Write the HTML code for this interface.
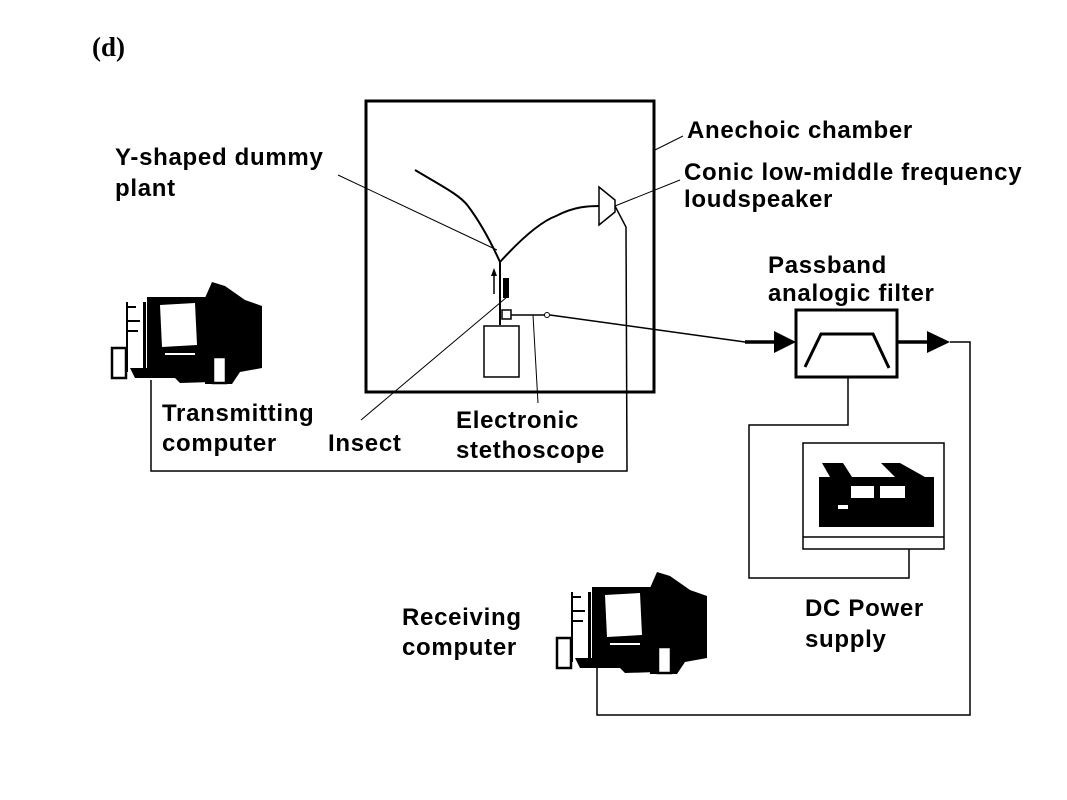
<!DOCTYPE html>
<html><head><meta charset="utf-8"><style>
html,body{margin:0;padding:0;background:#fff}
svg{display:block}
text{font-family:"Liberation Sans",Arial,sans-serif;font-weight:bold;font-size:24px;letter-spacing:0.7px;fill:#000}
</style></head><body>
<svg width="1067" height="800" viewBox="0 0 1067 800" xmlns="http://www.w3.org/2000/svg">
<defs>
<g id="pc">
  <path d="M205,298 L212,282 L225,286 L245,300 L262,306 L262,368 L240,372 L232,384 L205,384 Z" fill="#000"/>
  <rect x="147" y="297" width="60" height="72" fill="#000"/>
  <path d="M160,305 L195,303 L197,345 L162,347 Z" fill="#fff"/>
  <rect x="165" y="353" width="30" height="2" fill="#fff"/>
  <path d="M130,368 L212,368 L212,382 L180,383 L175,378 L135,378 Z" fill="#000"/>
  <rect x="126" y="302" width="2" height="70" fill="#000"/>
  <rect x="143" y="302" width="3" height="70" fill="#000"/>
  <rect x="128" y="306" width="8" height="2" fill="#000"/>
  <rect x="128" y="320" width="12" height="2" fill="#000"/>
  <rect x="128" y="330" width="10" height="2" fill="#000"/>
  <rect x="112" y="348" width="14" height="30" fill="none" stroke="#000" stroke-width="2.5"/>
  <rect x="213" y="357" width="13" height="26" fill="#fff" stroke="#000" stroke-width="2.5"/>
</g>
</defs>

<text x="92" y="56" style="font-family:'Liberation Serif',serif;font-size:27px;letter-spacing:0">(d)</text>

<rect x="366" y="101" width="288" height="291" fill="none" stroke="#000" stroke-width="3"/>

<path d="M415,170 C440,185 460,195 468,206 C480,222 490,240 500,262" fill="none" stroke="#000" stroke-width="2"/>
<path d="M500,262 C520,240 540,222 556,216 C575,206 590,206 600,206" fill="none" stroke="#000" stroke-width="2"/>
<line x1="500" y1="262" x2="500" y2="325" stroke="#000" stroke-width="2"/>
<rect x="484" y="326" width="35" height="51" fill="#fff" stroke="#000" stroke-width="1.5"/>
<rect x="503" y="278" width="6" height="20" fill="#000"/>
<line x1="494" y1="294" x2="494" y2="272" stroke="#000" stroke-width="1.5"/>
<path d="M491,276 L494,268 L497,276 Z" fill="#000"/>
<path d="M599,187 L615,200 L615,212 L599,225 Z" fill="#fff" stroke="#000" stroke-width="1.5"/>
<path d="M615,206 L626,227 L627,471 L151,471 L151,380" fill="none" stroke="#000" stroke-width="1.5"/>

<line x1="338" y1="175" x2="497" y2="250" stroke="#000" stroke-width="1"/>
<line x1="615" y1="206" x2="680" y2="180" stroke="#000" stroke-width="1"/>
<line x1="655" y1="150" x2="683" y2="136" stroke="#000" stroke-width="1"/>
<line x1="507" y1="297" x2="361" y2="420" stroke="#000" stroke-width="1"/>
<line x1="533" y1="315" x2="538" y2="403" stroke="#000" stroke-width="1"/>

<rect x="502" y="310" width="9" height="9" fill="#fff" stroke="#000" stroke-width="1.5"/>
<line x1="511" y1="315" x2="545" y2="315" stroke="#000" stroke-width="1.5"/>
<circle cx="547" cy="315" r="2.5" fill="#fff" stroke="#000" stroke-width="1"/>
<line x1="550" y1="315" x2="745" y2="342" stroke="#000" stroke-width="1.5"/>
<line x1="745" y1="342" x2="775" y2="342" stroke="#000" stroke-width="3.5"/>
<path d="M774,331 L796,342 L774,353 Z" fill="#000"/>

<rect x="796" y="310" width="101" height="67" fill="#fff" stroke="#000" stroke-width="3"/>
<path d="M805,367 L821,334 L873,334 L889,368" fill="none" stroke="#000" stroke-width="3"/>
<line x1="897" y1="342" x2="928" y2="342" stroke="#000" stroke-width="3.5"/>
<path d="M927,331 L950,342 L927,353 Z" fill="#000"/>
<path d="M950,342 L970,342 L970,715 L597,715 L597,668" fill="none" stroke="#000" stroke-width="1.5"/>

<path d="M848,377 L848,425 L749,425 L749,578 L909,578 L909,549" fill="none" stroke="#000" stroke-width="1.5"/>
<rect x="803" y="443" width="141" height="106" fill="#fff" stroke="#000" stroke-width="1.5"/>
<rect x="819" y="477" width="115" height="50" fill="#000"/>
<path d="M822,463 L843,463 L852,477 L830,477 Z" fill="#000"/>
<path d="M881,463 L900,463 L925,477 L895,477 Z" fill="#000"/>
<rect x="851" y="486" width="23" height="12" fill="#fff"/>
<rect x="880" y="486" width="25" height="12" fill="#fff"/>
<rect x="838" y="505" width="10" height="4" fill="#fff"/>
<line x1="803" y1="537" x2="944" y2="537" stroke="#000" stroke-width="1.5"/>

<use href="#pc"/>
<use href="#pc" transform="translate(445,290)"/>

<text x="115" y="165">Y-shaped  dummy</text>
<text x="115" y="196">plant</text>
<text x="687" y="138">Anechoic chamber</text>
<text x="684" y="180">Conic low-middle frequency</text>
<text x="684" y="207">loudspeaker</text>
<text x="768" y="273">Passband</text>
<text x="768" y="301">analogic filter</text>
<text x="162" y="421">Transmitting</text>
<text x="162" y="451">computer</text>
<text x="328" y="451">Insect</text>
<text x="456" y="428">Electronic</text>
<text x="456" y="458">stethoscope</text>
<text x="805" y="616">DC Power</text>
<text x="805" y="647">supply</text>
<text x="402" y="625">Receiving</text>
<text x="402" y="655">computer</text>
</svg>
</body></html>
